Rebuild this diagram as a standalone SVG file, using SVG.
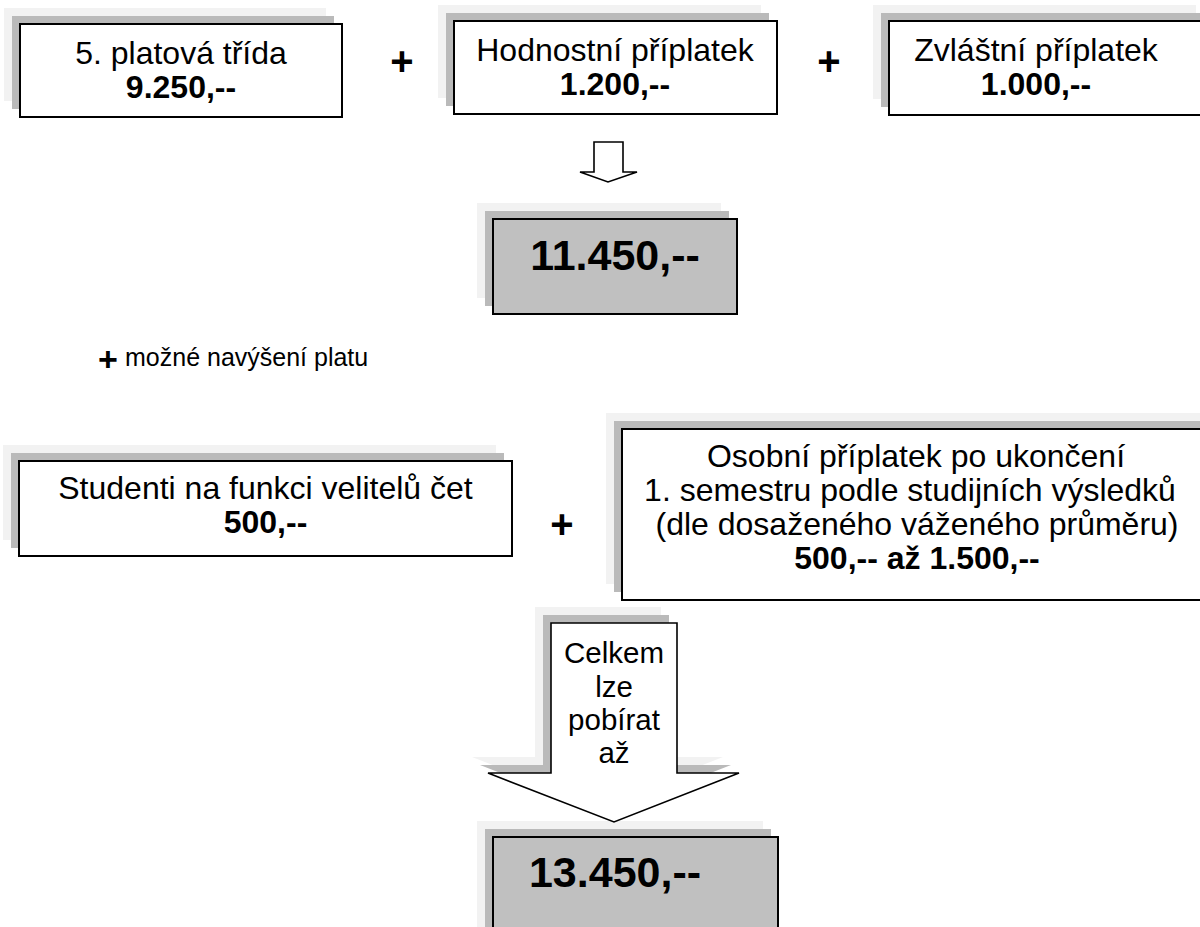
<svg xmlns="http://www.w3.org/2000/svg" width="1200" height="927" viewBox="0 0 1200 927">
<style>
.s1{fill:#f2f2f2}
.s2{fill:#bababa}
.box{fill:#ffffff;stroke:#000;stroke-width:2}
.gbox{fill:#c0c0c0;stroke:#000;stroke-width:2}
.arr{fill:#ffffff;stroke:#000;stroke-width:1.6;stroke-linejoin:miter}
text{font-family:"Liberation Sans",Arial,sans-serif;fill:#000}
.t{font-size:32px;text-anchor:middle}
.b{font-weight:bold}
.big{font-size:43px;font-weight:bold;text-anchor:middle}
.plus{font-size:40px;font-weight:bold;text-anchor:middle}
.at{font-size:29.5px;text-anchor:middle}
</style>
<rect width="1200" height="927" fill="#ffffff"/>

<g id="node-trida">
<rect class="s1" x="4" y="8" width="322" height="93"/>
<rect class="s2" x="12" y="16" width="322" height="93"/>
<rect class="box" x="20" y="24" width="322" height="93"/>
<text class="t" x="181" y="64">5. platová třída</text>
<text class="t b" x="181" y="98">9.250,--</text>
</g>

<g id="node-hodnostni">
<rect class="s1" x="438" y="5" width="323" height="93"/>
<rect class="s2" x="446" y="13" width="323" height="93"/>
<rect class="box" x="454" y="21" width="323" height="93"/>
<text class="t" x="615" y="61">Hodnostní příplatek</text>
<text class="t b" x="615" y="95">1.200,--</text>
</g>

<g id="node-zvlastni">
<rect class="s1" x="873" y="5" width="323" height="94"/>
<rect class="s2" x="881" y="13" width="330" height="94"/>
<rect class="box" x="889" y="21" width="330" height="94"/>
<text class="t" x="1036" y="61">Zvláštní příplatek</text>
<text class="t b" x="1036" y="95">1.000,--</text>
</g>

<g id="node-soucet1">
<rect class="s1" x="477" y="203" width="244" height="95"/>
<rect class="s2" x="485" y="211" width="244" height="95"/>
<rect class="gbox" x="493" y="219" width="244" height="95"/>
<text class="big" x="615" y="270">11.450,--</text>
</g>

<g id="note-navyseni">
<text x="108" y="371" style="font-size:34px;font-weight:bold;text-anchor:middle">+</text>
<text x="125" y="366" style="font-size:25px">možné navýšení platu</text>
</g>

<g id="node-studenti">
<rect class="s1" x="3" y="445" width="493" height="95"/>
<rect class="s2" x="11" y="453" width="493" height="95"/>
<rect class="box" x="19" y="461" width="493" height="95"/>
<text class="t" x="265.5" y="499">Studenti na funkci velitelů čet</text>
<text class="t b" x="265.5" y="533">500,--</text>
</g>

<g id="node-osobni">
<rect class="s1" x="606" y="413" width="600" height="171"/>
<rect class="s2" x="614" y="421" width="600" height="171"/>
<rect class="box" x="622" y="429" width="600" height="171"/>
<text class="t" x="916" y="467">Osobní příplatek po ukončení</text>
<text class="t" x="910" y="501">1. semestru podle studijních výsledků</text>
<text class="t" x="917" y="535">(dle dosaženého váženého průměru)</text>
<text class="t b" x="917" y="569">500,-- až 1.500,--</text>
</g>

<g id="node-soucet2">
<rect class="s1" x="477" y="821" width="286" height="120"/>
<rect class="s2" x="485" y="829" width="286" height="120"/>
<rect class="gbox" x="493" y="837" width="285" height="120"/>
<text class="big" x="615" y="887">13.450,--</text>
</g>

<g id="connectors">
<text class="plus" x="402" y="75">+</text>
<text class="plus" x="829" y="75">+</text>
<text class="plus" x="562" y="538">+</text>
<path class="arr" d="M594,142 H623 V172 H637 L608,182 L580,172 H594 Z"/>
<g id="arrow-celkem">
<path class="s1" d="M535,607 H661 V757 H723 L598,806 L472,757 H535 Z"/>
<path class="s2" d="M543,615 H669 V765 H731 L606,814 L480,765 H543 Z"/>
<path class="arr" d="M551,623 H677 V773 H739 L614,822 L488,773 H551 Z"/>
<text class="at" x="614" y="663">Celkem</text>
<text class="at" x="614" y="697">lze</text>
<text class="at" x="614" y="730">pobírat</text>
<text class="at" x="614" y="763">až</text>
</g>
</g>
</svg>
